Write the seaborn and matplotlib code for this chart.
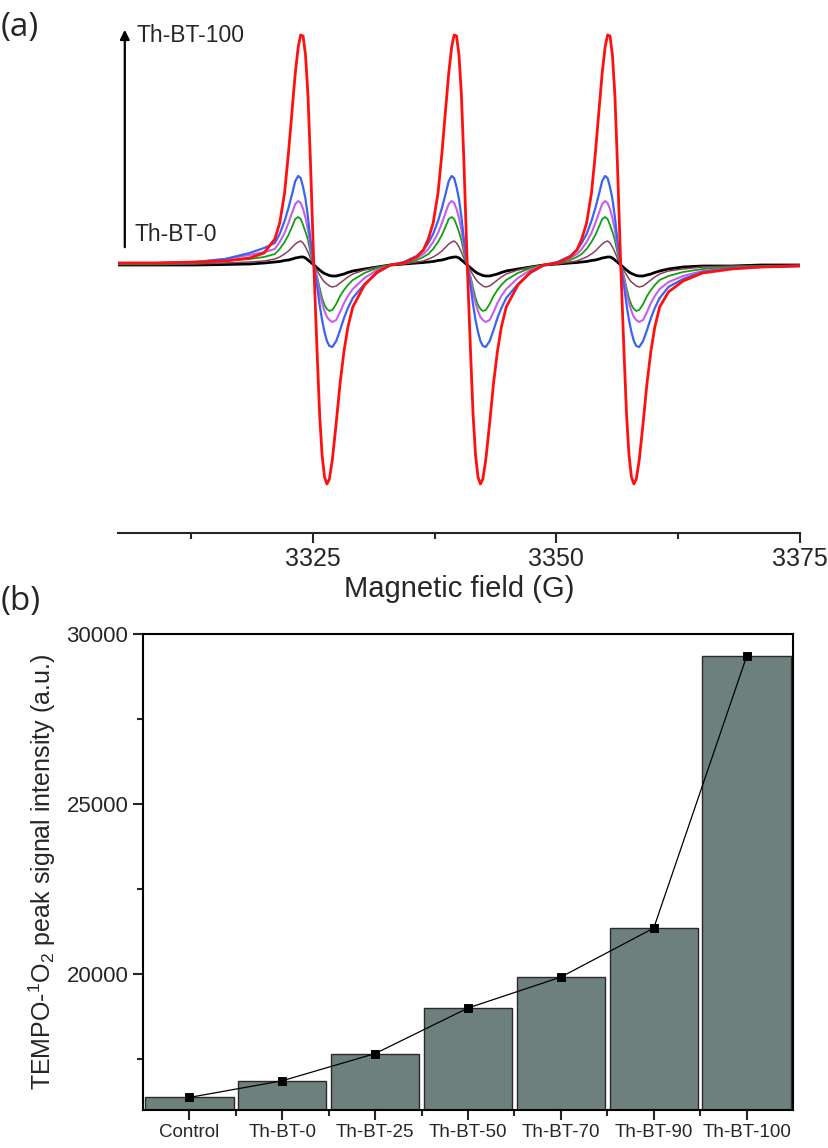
import numpy as np
import pandas as pd
import seaborn as sns
import matplotlib.pyplot as plt
from matplotlib import font_manager
from matplotlib.ticker import FixedLocator

# ---------------- panel (a): EPR spectra ----------------
series = ['Th-BT-0', 'Th-BT-25', 'Th-BT-50', 'Th-BT-70', 'Th-BT-90', 'Th-BT-100']
colors = ['#000000', '#8b3d62', '#10a010', '#c65ee8', '#3a64f0', '#ff1010']
widths = [2.0, 1.1, 1.3, 1.5, 1.6, 2.0]

# hyperfine line centres (G)
centers = [3325.1, 3340.85, 3356.6]
# field offsets from a line centre (G) and the signal read at them
offsets = [-7.875, -6.5, -5.2, -4.5, -4.0, -3.5, -3.0, -2.6, -2.2, -1.9,
           -1.6, -1.35, -1.1, -0.85, -0.6, -0.35, 0,
           0.35, 0.6, 0.85, 1.1, 1.35, 1.6, 1.9, 2.3, 2.7, 3.1,
           3.5, 4.0, 5.2, 6.5, 7.875]
profiles = {
    'Th-BT-0':   [0, 1, 2, 2.5, 3, 3.5, 4.5, 5, 6, 7,
                  7.5, 8, 8, 7, 5, 3, 0,
                  -3, -5, -7, -8.5, -9.5, -10.5, -11, -11, -10, -9,
                  -7.5, -6, -4, -2, 0],
    'Th-BT-25':  [0, 1, 3, 4, 6, 8, 11, 14, 18, 21,
                  23, 24, 22, 18, 13, 7, 0,
                  -6, -10, -14, -17, -19, -21, -22, -21, -18, -15,
                  -12, -9, -5, -2, 0],
    'Th-BT-50':  [0, 2, 5, 8, 11, 16, 23, 30, 39, 46,
                  48, 46, 40, 33, 25, 13, 0,
                  -12, -23, -33, -40, -44, -46, -45, -39, -31, -25,
                  -20, -15, -8, -3, 0],
    'Th-BT-70':  [0, 2, 7, 11, 16, 23, 32, 42, 53, 61,
                  64, 62, 56, 47, 35, 19, 0,
                  -15, -28, -38, -46, -52, -55, -57, -55, -47, -38,
                  -31, -24, -13, -5, 0],
    'Th-BT-90':  [0, 3, 9, 15, 22, 31, 44, 57, 72, 84,
                  89, 87, 78, 66, 48, 26, 0,
                  -22, -40, -55, -67, -76, -81, -82, -76, -65, -53,
                  -43, -33, -19, -8, 0],
    'Th-BT-100': [0, 2, 8, 15, 26, 42, 72, 112, 158, 192,
                  218, 230, 229, 210, 170, 105, 0,
                  -90, -150, -190, -212, -219, -214, -195, -158, -118, -86,
                  -62, -42, -20, -7, 0],
}
# low-field and high-field tails outside the triplet
left_fields = [3305, 3309, 3313, 3316, 3318.5, 3320.0]
left_tails = {
    'Th-BT-0':   [0, 0, 0, 0.5, 1, 2],
    'Th-BT-25':  [0.5, 0.5, 1, 2, 3, 4],
    'Th-BT-50':  [1, 1, 2, 4, 6, 8],
    'Th-BT-70':  [2, 2, 3, 6, 10, 13],
    'Th-BT-90':  [2, 2, 3, 6, 12, 17],
    'Th-BT-100': [2, 2, 3, 4, 7, 12],
}
right_fields = [3361.5, 3363, 3365, 3368, 3371, 3375]
right_tails = {
    'Th-BT-0':   [-4, -2, -1, -1, 0, 0],
    'Th-BT-25':  [-6, -4, -2, -1, -1, 0],
    'Th-BT-50':  [-11, -7, -4, -2, -1, -1],
    'Th-BT-70':  [-17, -11, -6, -3, -2, -1],
    'Th-BT-90':  [-22, -14, -7, -3, -2, -1],
    'Th-BT-100': [-27, -16, -8, -4, -2, -1],
}

# ---------------- panel (b): peak intensities ----------------
samples = ['Control', 'Th-BT-0', 'Th-BT-25', 'Th-BT-50', 'Th-BT-70', 'Th-BT-90', 'Th-BT-100']
intensity = [16370, 16860, 17660, 19000, 19910, 21350, 29340]


def build_trace(name):
    xs = list(left_fields)
    ys = list(left_tails[name])
    last = len(centers) - 1
    for k, c in enumerate(centers):
        for o, v in zip(offsets, profiles[name]):
            if k == 0 and o < -4.0:
                continue
            if k > 0 and o == offsets[0]:
                continue
            if k == last and o > 4.0:
                continue
            xs.append(c + o)
            ys.append(v)
    xs += right_fields
    ys += right_tails[name]
    return pd.DataFrame({'field': xs, 'signal': ys})


sns.set_style('white')
plt.rcParams['font.family'] = ['Liberation Sans', 'DejaVu Sans']
plt.rcParams['mathtext.fontset'] = 'custom'
plt.rcParams['mathtext.rm'] = 'Liberation Sans'

installed = {f.name for f in font_manager.fontManager.ttflist}
if 'Liberation Sans Narrow' in installed:
    narrow, top_size, bot_size = 'Liberation Sans Narrow', 20, 16.5
else:
    narrow, top_size, bot_size = 'Liberation Sans', 18, 13.5

fig = plt.figure(figsize=(8.29, 11.48), dpi=100)

ax1 = fig.add_axes([0.1423, 0.5357, 0.8227, 0.4469])
for name, col, lw in zip(series, colors, widths):
    df = build_trace(name)
    sns.lineplot(data=df, x='field', y='signal', color=col, lw=lw, sort=False,
                 estimator=None, ax=ax1)

ax1.set_xlim(3305, 3375)
ax1.set_ylim(-268, 245)
for s in ['left', 'top', 'right']:
    ax1.spines[s].set_visible(False)
ax1.spines['bottom'].set_linewidth(1.5)
ax1.set_yticks([])
ax1.set_xticks([3325, 3350, 3375], labels=['3325', '3350', '3375'],
               fontfamily=narrow, fontsize=top_size)
ax1.xaxis.set_minor_locator(FixedLocator([3312.5, 3337.5, 3362.5]))
ax1.tick_params(axis='x', which='major', direction='out', length=7, width=1.5,
                bottom=True, pad=3)
ax1.tick_params(axis='x', which='minor', direction='out', length=4, width=1.5, bottom=True)
ax1.set_xlabel('Magnetic field (G)', fontsize=21, labelpad=3)
ax1.set_ylabel('')

ax1.annotate('', xy=(3305.7, 238), xytext=(3305.7, 15),
             arrowprops=dict(arrowstyle='-|>', lw=1.6, color='k', mutation_scale=14))
ax1.text(3306.9, 229, 'Th-BT-100', fontsize=16.5, va='center', ha='left')
ax1.text(3306.7, 30, 'Th-BT-0', fontsize=16.5, va='center', ha='left')

fig.text(0.001, 0.990, '(a)', fontsize=24, va='top', ha='left', family='Open Sans')
fig.text(0.001, 0.490, '(b)', fontsize=24, va='top', ha='left', family='Open Sans')

# ---------------- bars ----------------
ax2 = fig.add_axes([0.1725, 0.0331, 0.7841, 0.4146])
sns.barplot(x=samples, y=intensity, color='#6e807e', width=0.95, edgecolor='#2a2a2a',
            linewidth=1.0, saturation=1, ax=ax2)
sns.pointplot(x=samples, y=intensity, color='k', markers='s', markersize=6,
              linewidth=0.9, ax=ax2)

ax2.set_xlim(-0.5, 6.5)
ax2.set_ylim(16000, 30000)
for s in ax2.spines.values():
    s.set_linewidth(1.5)
    s.set_color('k')
ax2.set_xticks(range(len(samples)), labels=samples, fontfamily=narrow, fontsize=bot_size)
ax2.yaxis.set_major_locator(FixedLocator([20000, 25000, 30000]))
ax2.yaxis.set_minor_locator(FixedLocator([17500, 22500, 27500]))
ax2.xaxis.set_minor_locator(FixedLocator([0.5, 1.5, 2.5, 3.5, 4.5, 5.5]))
ax2.tick_params(axis='both', which='major', direction='out', length=7, width=1.5,
                bottom=True, left=True)
ax2.tick_params(axis='both', which='minor', direction='out', length=4, width=1.5,
                bottom=True, left=True)
ax2.tick_params(axis='y', labelsize=16)
ax2.tick_params(axis='x', pad=3)
ax2.set_xlabel('')
ax2.set_ylabel('TEMPO-$^{\\mathregular{1}}$O$_{\\mathregular{2}}$ peak signal intensity (a.u.)',
               fontsize=18, labelpad=6)

fig.savefig('out.png', dpi=100)
